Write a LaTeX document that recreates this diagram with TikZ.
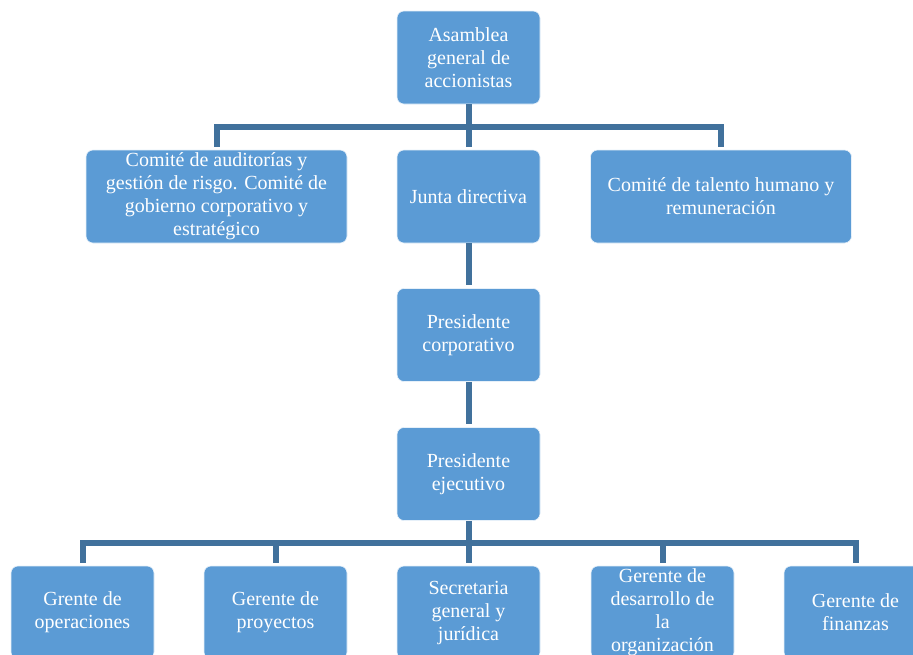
\documentclass[tikz,border=0pt]{standalone}
\usepackage{fontspec}
\setmainfont{Liberation Serif}
\usepackage{tikz}
\definecolor{boxblue}{RGB}{91,155,213}
\definecolor{lineblue}{RGB}{65,113,156}

\begin{document}
\begin{tikzpicture}[x=1pt,y=-1pt,
		puesto/.style={rectangle,rounded corners=7pt,fill=boxblue,draw=white!85!boxblue,line width=0.6pt,
			text=white,align=center,inner sep=0pt,minimum width=143pt,minimum height=93pt,
			font=\rmfamily\fontsize{20}{23}\selectfont},
		ancho/.style={minimum width=261pt},
		rama/.style={draw=lineblue,line width=6pt}]
		\path[use as bounding box,clip] (0,0) rectangle (913,654);
		%
		\node[puesto] (asamblea) at (468.5,57.5) {Asamblea\\general de\\accionistas};
		\node[puesto,ancho] (comite) at (216.5,196.5) {Comité de auditorías y\\gestión de risgo. Comité de\\gobierno corporativo y\\estratégico};
		\node[puesto] (junta) at (468.5,196.5) {Junta directiva};
		\node[puesto,ancho] (talento) at (721,196.5) {Comité de talento humano y\\remuneración};
		\node[puesto] (corporativo) at (468.5,335) {Presidente\\corporativo};
		\node[puesto] (ejecutivo) at (468.5,474) {Presidente\\ejecutivo};
		%
		\node[puesto] (operaciones) at (82.5,612.5) {Grente de\\operaciones};
		\node[puesto] (proyectos) at (275.5,612.5) {Gerente de\\proyectos};
		\node[puesto] (secretaria) at (468.5,612.5) {Secretaria\\general y\\jurídica};
		\node[puesto] (desarrollo) at (662.5,612.5) {Gerente de\\desarrollo de\\la\\organización};
		\node[puesto] (finanzas) at (855.5,612.5) {Gerente de\\finanzas};
		%
		\coordinate (barra1) at (468.5,127);
		\coordinate (barra2) at (468.5,543);
		%
		\path[rama,shorten >=3pt]
		(asamblea) edge (junta)
		(junta) edge (corporativo)
		(corporativo) edge (ejecutivo)
		(ejecutivo) edge (secretaria);
		\path[rama,shorten <=3pt]
		(comite.north) edge[to path={|- (\tikztotarget)}] (barra1)
		(talento.north) edge[to path={|- (\tikztotarget)}] (barra1)
		(operaciones.north) edge[to path={|- (\tikztotarget)}] (barra2)
		(proyectos.north) edge[to path={|- (\tikztotarget)}] (barra2)
		(desarrollo.north) edge[to path={|- (\tikztotarget)}] (barra2)
		(finanzas.north) edge[to path={|- (\tikztotarget)}] (barra2);
	\end{tikzpicture}
\end{document}
